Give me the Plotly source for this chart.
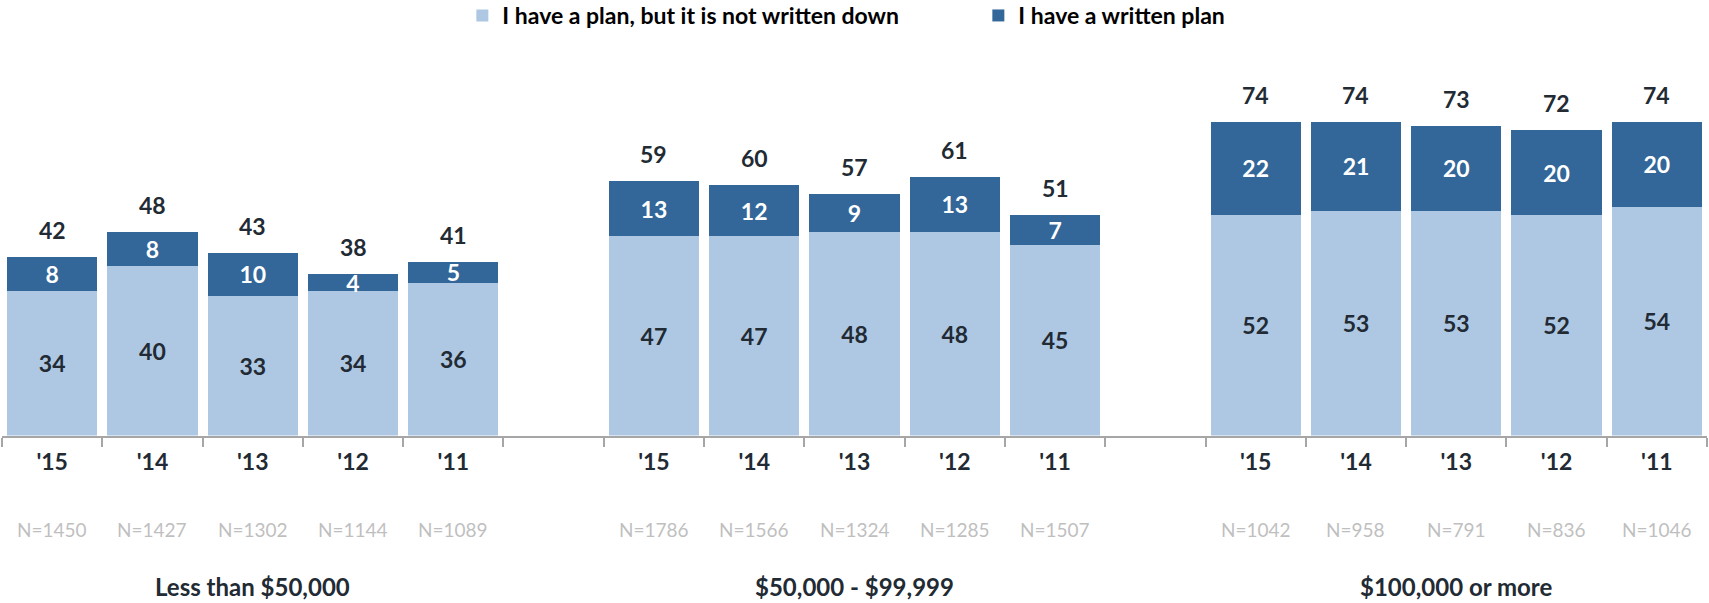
import plotly.graph_objects as go

groups = ["Less than $50,000", "$50,000 - $99,999", "$100,000 or more"]
years = ["'15", "'14", "'13", "'12", "'11"]
not_written = [34, 40, 33, 34, 36, 47, 47, 48, 48, 45, 52, 53, 53, 52, 54]
written = [8, 8, 10, 4, 5, 13, 12, 9, 13, 7, 22, 21, 20, 20, 20]
totals = [42, 48, 43, 38, 41, 59, 60, 57, 61, 51, 74, 74, 73, 72, 74]
ns = [1450, 1427, 1302, 1144, 1089, 1786, 1566, 1324, 1285, 1507, 1042, 958, 791, 836, 1046]

LIGHT = "#AEC8E3"
DARK = "#336699"
TXT = "#222A33"
FONT = "Lato"
W, H = 1709, 603

# category ids (unique) with an empty slot between groups
bar_ids = []
all_ids = []
tick_text = []
for gi, g in enumerate(groups):
    for y in years:
        cid = f"{g}|{y}"
        bar_ids.append(cid)
        all_ids.append(cid)
        tick_text.append(y)
    if gi < len(groups) - 1:
        all_ids.append(f"gap{gi}")
        tick_text.append("")

fig = go.Figure()
fig.add_trace(go.Bar(
    x=bar_ids, y=not_written, name="I have a plan, but it is not written down",
    marker=dict(color=LIGHT, line=dict(width=0)),
    text=[str(v) for v in not_written], textposition="inside",
    insidetextanchor="middle", textangle=0,
    textfont=dict(family=FONT, size=23, color=TXT, weight="bold"),
))
fig.add_trace(go.Bar(
    x=bar_ids, y=written, name="I have a written plan",
    marker=dict(color=DARK, line=dict(width=0)),
    text=[str(v) for v in written], textposition="inside",
    insidetextanchor="middle", textangle=0,
    textfont=dict(family=FONT, size=23, color="white", weight="bold"),
))

annotations = []
for cid, a, b, t, n in zip(bar_ids, not_written, written, totals, ns):
    annotations.append(dict(x=cid, y=a + b, xref="x", yref="y", text=str(t),
                            showarrow=False, yanchor="middle", yshift=27,
                            font=dict(family=FONT, size=23, color=TXT, weight="bold")))
    annotations.append(dict(x=cid, y=(H - 529) / H, xref="x", yref="paper", text=f"N={n}",
                            showarrow=False, yanchor="middle",
                            font=dict(family=FONT, size=19, color="#BFBFBF")))
for g in groups:
    annotations.append(dict(x=f"{g}|{years[2]}", y=0, xref="x", yref="paper",
                            text=g, showarrow=False, yanchor="bottom",
                            font=dict(family=FONT, size=24, color=TXT, weight="bold")))

axis_px = 435.5
top_px = 40
px_per_unit = 4.24

fig.update_layout(
    width=W, height=H,
    margin=dict(l=2, r=2, t=0, b=0, autoexpand=False),
    paper_bgcolor="white", plot_bgcolor="white",
    barmode="stack", bargap=0.1,
    uniformtext=dict(minsize=23, mode="show"),
    font=dict(family=FONT, color=TXT),
    showlegend=True,
    legend=dict(orientation="h", x=0.270, xanchor="left", y=1 + 6 / H, yanchor="top",
                traceorder="normal", entrywidth=471, entrywidthmode="pixels",
                font=dict(family=FONT, size=23, color="black", weight="bold"),
                itemwidth=30, bgcolor="rgba(0,0,0,0)"),
    annotations=annotations,
)
fig.update_xaxes(
    type="category", categoryorder="array", categoryarray=all_ids,
    tickmode="array", tickvals=all_ids, ticktext=tick_text,
    tickson="boundaries", ticks="outside", ticklen=9, tickwidth=2, tickcolor="#A6A6A6",
    showline=True, linecolor="#A6A6A6", linewidth=2,
    showgrid=False, zeroline=False, range=[-0.5, len(all_ids) - 0.5],
    ticklabelstandoff=5, automargin=False,
    tickfont=dict(family=FONT, size=23, color=TXT, weight="bold"),
)
fig.update_yaxes(
    visible=False, showgrid=False, zeroline=False, automargin=False,
    domain=[(H - axis_px) / H, (H - top_px) / H],
    range=[0, (axis_px - top_px) / px_per_unit],
)

fig.write_html("out.html")
